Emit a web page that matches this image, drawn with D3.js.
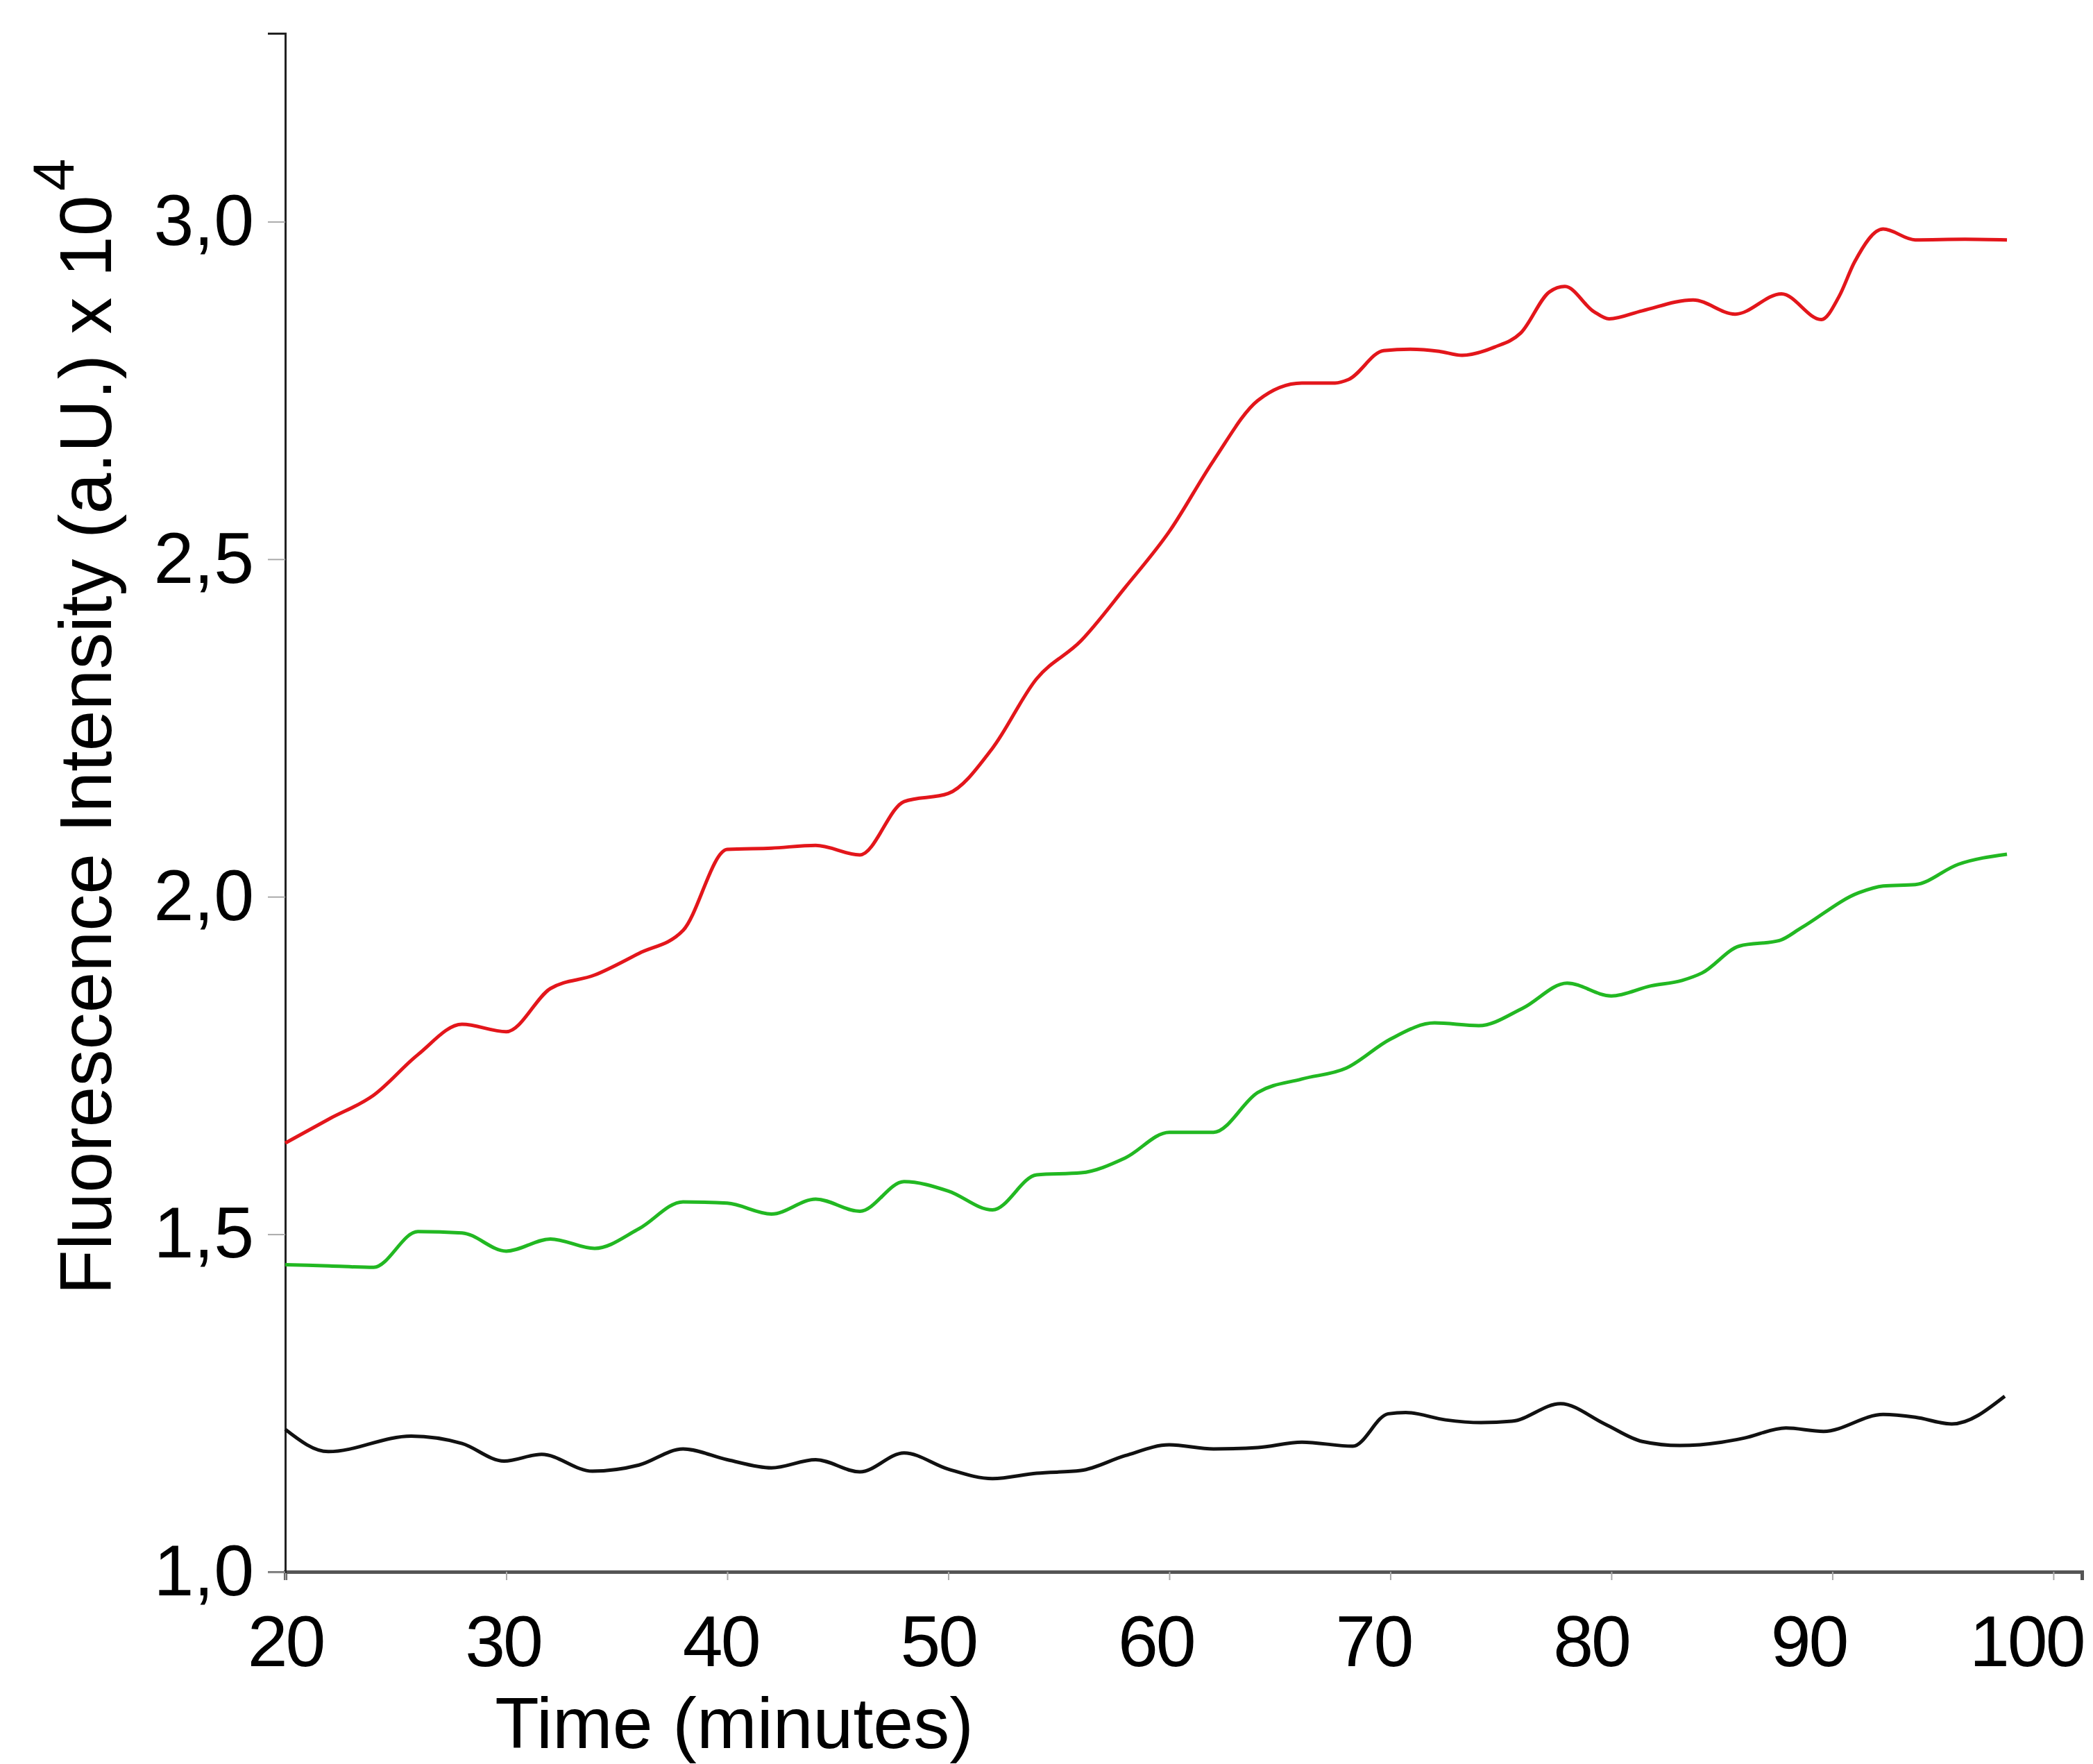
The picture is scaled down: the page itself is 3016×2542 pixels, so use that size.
<!DOCTYPE html>
<html>
<head>
<meta charset="utf-8">
<script src="https://cdn.jsdelivr.net/npm/d3@7"></script>
<style>
  body { margin: 0; background: #fff; }
  svg { display: block; }
  text { font-family: "Liberation Sans", Arial, sans-serif; }
</style>
</head>
<body>
<svg></svg>
<script>
// Red series: time (minutes) and fluorescence (x 10^4)
let redTimes = [20, 22, 24, 26, 28, 30, 32, 34, 36, 38, 40, 42, 44, 46, 48, 50, 52, 54, 56, 58,
                60, 62, 64, 66, 67.5, 68.1, 69.7, 70.9, 72.2, 73.25, 74.7, 75.9, 77.2, 77.9,
                79.2, 79.9, 81.4, 83.7, 85.6, 87.7, 89.5, 90.3, 91.0, 92.3, 93.75, 96, 97.9];
let redValues = [1.635, 1.671, 1.706, 1.766, 1.811, 1.800, 1.864, 1.884, 1.916, 1.950,
                 2.070, 2.072, 2.076, 2.062, 2.141, 2.153, 2.220, 2.323, 2.379, 2.458,
                 2.541, 2.646, 2.735, 2.761, 2.761, 2.766, 2.809, 2.811, 2.808, 2.802,
                 2.814, 2.835, 2.896, 2.904, 2.867, 2.856, 2.868, 2.884, 2.863, 2.893,
                 2.855, 2.889, 2.940, 2.989, 2.973, 2.974, 2.973];

// Green series
let greenTimes = [20, 22, 24, 26, 28, 30, 32, 34, 36, 38, 40, 42, 44, 46, 48, 50, 52, 54, 56, 58,
                  60, 62, 64, 66, 68, 70, 72, 74, 76, 78, 80, 81.8, 83.2, 84.1, 85.8, 87.6,
                  88.6, 91.2, 92.3, 93.75, 95.7, 97.9];
let greenValues = [1.455, 1.453, 1.451, 1.504, 1.502, 1.475, 1.493, 1.479, 1.508, 1.548,
                   1.546, 1.530, 1.552, 1.534, 1.578, 1.564, 1.536, 1.588, 1.591, 1.613,
                   1.651, 1.651, 1.710, 1.730, 1.746, 1.789, 1.813, 1.809, 1.835, 1.872,
                   1.853, 1.868, 1.876, 1.887, 1.927, 1.935, 1.954, 2.006, 2.016, 2.018,
                   2.048, 2.063];

// Black series
let blackTimes = [20, 21.95, 25.7, 28, 29.9, 31.6, 33.9, 36, 38, 40, 42, 44, 46, 48, 50, 52, 54,
                  56, 58, 60, 62, 64, 66, 68.3, 69.9, 70.7, 72.5, 74.1, 75.5, 77.7, 79.7, 81.4,
                  83.1, 85.0, 86.0, 87.9, 89.6, 92.3, 93.75, 95.4, 97.8];
let blackValues = [1.211, 1.178, 1.201, 1.190, 1.164, 1.174, 1.149, 1.158, 1.182, 1.166,
                   1.154, 1.166, 1.148, 1.176, 1.152, 1.138, 1.146, 1.150, 1.172, 1.188,
                   1.182, 1.184, 1.192, 1.186, 1.234, 1.236, 1.225, 1.221, 1.223, 1.249,
                   1.219, 1.193, 1.187, 1.192, 1.198, 1.213, 1.208, 1.233, 1.229, 1.219, 1.260];

let xTicks = [20, 30, 40, 50, 60, 70, 80, 90, 100];
let yTicks = [1.0, 1.5, 2.0, 2.5, 3.0];

let svgWidth = 3016, svgHeight = 2542;
let plotLeft = 411, plotRight = 3000, plotTop = 48, plotBottom = 2265;

let svg = d3.select("svg")
    .attr("width", svgWidth)
    .attr("height", svgHeight);

// Scales
let xScale = d3.scaleLinear()
    .domain([20, 101.29])
    .range([plotLeft, plotRight]);

let yScale = d3.scaleLinear()
    .domain([1, 3.279])
    .range([plotBottom, plotTop]);

// x axis
let x_axis = d3.axisBottom(xScale)
    .tickValues(xTicks)
    .tickSize(12)
    .tickPadding(50)
    .tickFormat(d3.format("d"));

let gx = svg.append("g")
    .attr("transform", `translate(0, ${plotBottom})`)
    .call(x_axis);

gx.select(".domain").attr("stroke", "#555").attr("stroke-width", 5);
gx.selectAll(".tick line").attr("stroke", "#aaa").attr("stroke-width", 2);
gx.selectAll(".tick text")
    .attr("font-size", 104)
    .attr("letter-spacing", -3)
    .attr("dx", d => -(d - 20) * 0.49)
    .attr("fill", "#000");

// y axis
let y_axis = d3.axisLeft(yScale)
    .tickValues(yTicks)
    .tickSize(25)
    .tickPadding(20)
    .tickFormat(d => d3.format(".1f")(d).replace(".", ","));

let gy = svg.append("g")
    .attr("transform", `translate(${plotLeft}, 0)`)
    .call(y_axis);

gy.select(".domain").attr("stroke", "#222").attr("stroke-width", 3);
gy.selectAll(".tick line").attr("stroke", "#aaa").attr("stroke-width", 2);
gy.selectAll(".tick text")
    .attr("font-size", 104)
    .attr("fill", "#000");

// Lines
let line = d3.line()
    .x(d => xScale(d[0]))
    .y(d => yScale(d[1]))
    .curve(d3.curveMonotoneX);

let series = [
    { times: blackTimes, values: blackValues, color: "#111111" },
    { times: greenTimes, values: greenValues, color: "#22b822" },
    { times: redTimes, values: redValues, color: "#e3161b" }
];

series.forEach(s => {
    svg.append("path")
        .datum(s.times.map((t, i) => [t, s.values[i]]))
        .attr("fill", "none")
        .attr("stroke", s.color)
        .attr("stroke-width", 5)
        .attr("d", line);
});

// Axis titles
svg.append("text")
    .attr("x", 1058)
    .attr("y", 2519)
    .attr("text-anchor", "middle")
    .attr("font-size", 104)
    .text("Time (minutes)");

let yTitle = svg.append("text")
    .attr("transform", "translate(160, 1866) rotate(-90)")
    .attr("font-size", 106);
yTitle.append("tspan").text("Fluorescence Intensity (a.U.) x 10");
yTitle.append("tspan")
    .attr("font-size", 84)
    .attr("dy", -54)
    .attr("dx", 6)
    .text("4");
</script>
</body>
</html>
